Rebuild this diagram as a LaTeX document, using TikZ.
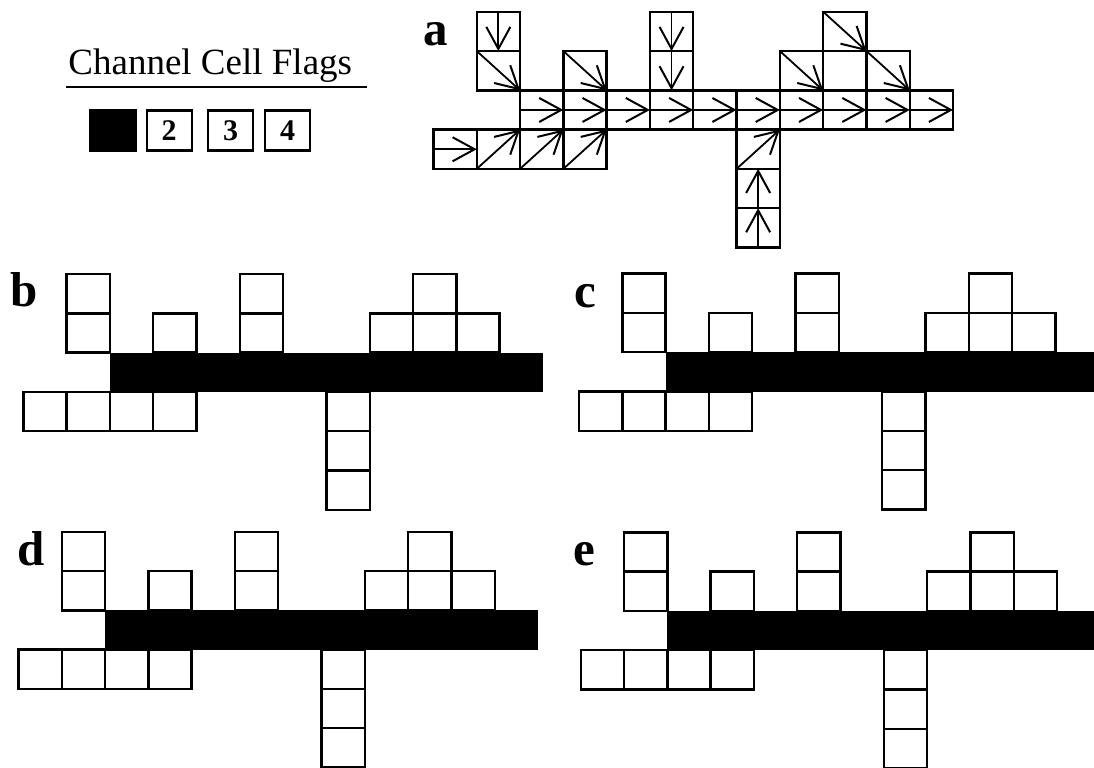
\documentclass[tikz,border=0pt]{standalone}
\usepackage{fontspec}
\setmainfont{Liberation Serif}[BoldFont={Liberation Serif Bold}]
\usetikzlibrary{arrows.meta}

% cells that every panel shares (row 2 is drawn per panel)
\newcommand{\channelcells}{%
  \foreach \c/\r in {1/0,1/1,3/1,5/0,5/1,8/1,9/0,9/1,10/1,0/3,1/3,2/3,3/3,7/3,7/4,7/5}
    \draw[cell] (\c,\r) rectangle ++(1,1);
}

\begin{document}
\begin{tikzpicture}[
    x=0.5pt, y=-0.5pt,
    cell/.style={draw=black, line width=1.2pt},
    flow/.style={-{Straight Barb[length=11pt, width=12pt, line width=1pt]}, line width=0.9pt},
    panellabel/.style={anchor=base east, inner sep=0pt, font=\fontsize{24.5}{28}\selectfont\bfseries},
    flagbox/.style={rectangle, draw=black, line width=1.2pt, minimum width=22.5pt, minimum height=20pt, inner sep=0pt, font=\fontsize{15}{18}\selectfont\bfseries}
]
\useasboundingbox (0,0) rectangle (1094,767);
\clip (0,0) rectangle (1094,767);

% legend
\node[anchor=base west, inner sep=0pt, font=\fontsize{18.5}{22}\selectfont] (flagtitle) at (68,74) {Channel Cell Flags};
\draw[line width=1.1pt] (66,87.3) -- (366.7,87.3);
\node[flagbox, fill=black, minimum width=23pt] (flagone) at (113,130.3) {};
\node[flagbox] (flagtwo) at (169.2,130.3) {2};
\node[flagbox] (flagthree) at (230.5,130.3) {3};
\node[flagbox] (flagfour) at (287.5,130.3) {4};

% panel a: flow directions
\node[panellabel] (lbla) at (448,45) {a};
\begin{scope}[shift={(433.4,11.7)}, x=21.65pt, y=-19.65pt]
  \channelcells
  \foreach \c in {2,...,11}
    \draw[cell] (\c,2) rectangle ++(1,1);
  \foreach \c/\r in {1/0,5/0,5/1}
    \draw[flow] (\c+0.5,\r) -- (\c+0.5,\r+1);
  \foreach \c/\r in {1/1,3/1,8/1,9/0,10/1}
    \draw[flow] (\c,\r) -- (\c+1,\r+1);
  \foreach \c/\r in {0/3,2/2,3/2,4/2,5/2,6/2,7/2,8/2,9/2,10/2,11/2}
    \draw[flow] (\c,\r+0.5) -- (\c+1,\r+0.5);
  \foreach \c/\r in {1/3,2/3,3/3,7/3}
    \draw[flow] (\c,\r+1) -- (\c+1,\r);
  \foreach \c/\r in {7/4,7/5}
    \draw[flow] (\c+0.5,\r+1) -- (\c+0.5,\r);
\end{scope}

% panels b to e: channel row flagged
\foreach \px/\py/\lx/\ly/\lt in {23.3/274/38.3/306.7/b, 579/273.6/597/307/c, 18.4/531.7/45/565/d, 580.7/532.3/595.7/565/e}{
  \node[panellabel] (lbl\lt) at (\lx,\ly) {\lt};
  \begin{scope}[shift={(\px,\py)}, x=21.65pt, y=-19.65pt]
    \channelcells
    \fill[black] (2,2) rectangle (12,3);
  \end{scope}
}

\end{tikzpicture}
\end{document}
